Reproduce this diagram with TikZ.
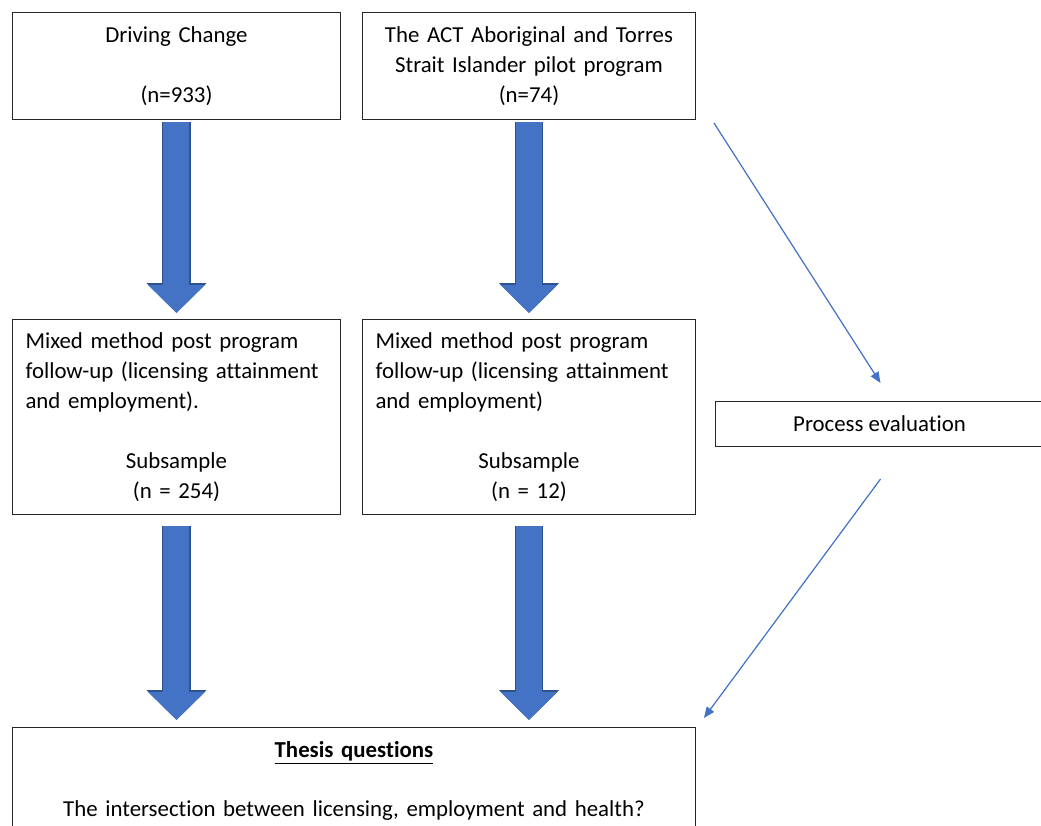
\documentclass[tikz,border=0pt]{standalone}
\usepackage{fontspec}
\setmainfont{Carlito}[Ligatures=NoCommon]
\usepackage{tikz}
\usetikzlibrary{arrows.meta, calc, positioning}
\definecolor{arrowblue}{HTML}{4472C4}
\definecolor{arrowedge}{HTML}{2F528F}
\setlength{\parindent}{0pt}

\begin{document}
\begin{tikzpicture}[x=0.02cm, y=-0.02cm, >=Stealth]
        % --- STILI ---
        \tikzset{
            box/.style={draw=black!85, line width=0.6pt, rectangle, anchor=north west, inner xsep=0.26cm, inner ysep=0.15cm, font=\fontsize{13}{17}\selectfont},
            bigarrow/.style={draw=arrowblue, line width=0.52cm, -{Triangle[width=1.10cm, length=0.56cm]},
                preaction={draw=arrowedge, line width=0.57cm, -{Triangle[width=1.17cm, length=0.60cm]}}},
            thinarrow/.style={draw=arrowblue, line width=0.7pt, -{Triangle[length=0.22cm, width=0.18cm]}}
        }
        \useasboundingbox (0,0) rectangle (1041,825);
        \clip (0,0) rectangle (1041,825);

        % --- PROGRAMMI ---
        \node [box, text width=6.04cm, align=center, minimum height=2.14cm] (box_dc) at (12,12) {Driving Change\\[17pt](n=933)};
        \node [box, text width=6.14cm, align=center, minimum height=2.14cm] (box_act) at (362,12) {The ACT Aboriginal and Torres\\Strait Islander pilot program\\(n=74)};

        % --- FOLLOW-UP ---
        \node [box, text width=6.04cm, minimum height=3.9cm] (fup_dc) at (12,319) {{\raggedright Mixed method post program\\follow-up (licensing attainment\\and employment).\par}\vspace{17pt}{\centering Subsample\\(n = 254)\par}};
        \node [box, text width=6.14cm, minimum height=3.9cm] (fup_act) at (362,319) {{\raggedright Mixed method post program\\follow-up (licensing attainment\\and employment)\par}\vspace{17pt}{\centering Subsample\\(n = 12)\par}};

        \node [box, align=center, minimum width=6.56cm, minimum height=0.9cm, inner ysep=0.08cm] (proc_eval) at (715,401) {Process evaluation};

        % --- TESI ---
        \node [box, text width=13.14cm, align=center, minimum height=2.14cm] (thesis) at (12,727) {\textbf{\underline{Thesis questions}}\\[17pt]The intersection between licensing, employment and health?};

        % --- FRECCE ---
        \draw [bigarrow] ($(box_dc.south)+(0,2)$) -- ($(fup_dc.north)+(0,-6)$);
        \draw [bigarrow] ($(box_act.south)+(0,2)$) -- ($(fup_act.north)+(0,-6)$);
        \draw [bigarrow] ($(fup_dc.south)+(0,11)$) -- ($(fup_dc.south |- thesis.north)+(0,-7)$);
        \draw [bigarrow] ($(fup_act.south)+(0,11)$) -- ($(fup_act.south |- thesis.north)+(0,-7)$);

        \draw [thinarrow] ($(box_act.south east)+(18,3)$) -- ($(proc_eval.north)+(1,-18)$);
        \draw [thinarrow] ($(proc_eval.south)+(1,32)$) -- ($(thesis.north east)+(8,-9)$);

    \end{tikzpicture}
\end{document}
